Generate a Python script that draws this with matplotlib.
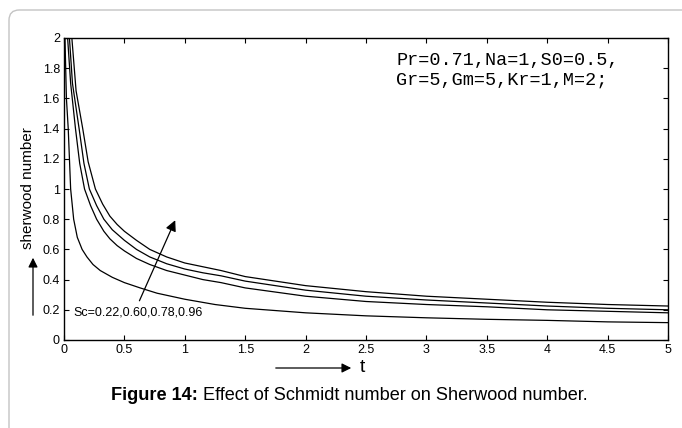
import matplotlib
matplotlib.use('Agg')
import matplotlib.pyplot as plt
from matplotlib.patches import FancyBboxPatch

# curves, one (t, Sh) pair per Schmidt number
t_022 = [0.008, 0.02, 0.035, 0.055, 0.08, 0.11, 0.15, 0.19, 0.24, 0.3, 0.4, 0.5, 0.63, 0.77, 1.0, 1.25, 1.5, 2.0, 2.5, 3.0, 3.5, 4.0, 4.5, 5.0]
sh_022 = [2.0, 1.6, 1.4, 1.0, 0.8, 0.68, 0.6, 0.55, 0.5, 0.46, 0.415, 0.38, 0.345, 0.31, 0.27, 0.235, 0.21, 0.18, 0.16, 0.147, 0.137, 0.13, 0.12, 0.115]

t_060 = [0.03, 0.055, 0.095, 0.13, 0.17, 0.22, 0.27, 0.33, 0.38, 0.44, 0.5, 0.6, 0.71, 0.85, 1.0, 1.15, 1.3, 1.5, 2.0, 2.5, 3.0, 3.5, 4.0, 4.5, 5.0]
sh_060 = [2.0, 1.7, 1.4, 1.17, 1.0, 0.89, 0.8, 0.72, 0.67, 0.625, 0.59, 0.54, 0.50, 0.46, 0.43, 0.40, 0.38, 0.345, 0.29, 0.255, 0.235, 0.22, 0.20, 0.19, 0.18]

t_078 = [0.045, 0.07, 0.125, 0.165, 0.21, 0.27, 0.33, 0.4, 0.5, 0.6, 0.71, 0.85, 1.0, 1.15, 1.3, 1.5, 2.0, 2.5, 3.0, 3.5, 4.0, 4.5, 5.0]
sh_078 = [2.0, 1.7, 1.4, 1.17, 1.0, 0.89, 0.8, 0.73, 0.66, 0.6, 0.55, 0.505, 0.47, 0.445, 0.425, 0.39, 0.33, 0.29, 0.265, 0.245, 0.225, 0.21, 0.20]

t_096 = [0.065, 0.1, 0.155, 0.2, 0.26, 0.32, 0.38, 0.44, 0.5, 0.6, 0.71, 0.85, 1.0, 1.15, 1.3, 1.5, 2.0, 2.5, 3.0, 3.5, 4.0, 4.5, 5.0]
sh_096 = [2.0, 1.65, 1.4, 1.18, 1.0, 0.9, 0.82, 0.765, 0.72, 0.66, 0.60, 0.55, 0.51, 0.485, 0.46, 0.42, 0.36, 0.32, 0.29, 0.27, 0.25, 0.235, 0.225]

x_ticks = [0, 0.5, 1, 1.5, 2, 2.5, 3, 3.5, 4, 4.5, 5]
x_tick_labels = ['0', '0.5', '1', '1.5', '2', '2.5', '3', '3.5', '4', '4.5', '5']
y_ticks = [0, 0.2, 0.4, 0.6, 0.8, 1, 1.2, 1.4, 1.6, 1.8, 2]
y_tick_labels = ['0', '0.2', '0.4', '0.6', '0.8', '1', '1.2', '1.4', '1.6', '1.8', '2']

sc_label = 'Sc=0.22,0.60,0.78,0.96'
param_text = 'Pr=0.71,Na=1,S0=0.5,\nGr=5,Gm=5,Kr=1,M=2;'

plt.rcParams['font.family'] = ['Liberation Sans', 'DejaVu Sans']

W, H = 682, 428
fig = plt.figure(figsize=(W / 100, H / 100), dpi=100)

# card outline behind everything (left and top edges visible)
card_top = 1 - 10 / H
card = FancyBboxPatch((9 / W, -0.2), 1.2, card_top + 0.2,
                      boxstyle='round,pad=0,rounding_size=0.015',
                      mutation_aspect=W / H, transform=fig.transFigure,
                      facecolor='none', edgecolor='#c4c4c4', lw=1.0, zorder=-1)
fig.patches.append(card)

ax = fig.add_axes([64 / W, 1 - 340 / H, (668 - 64) / W, (340 - 38) / H])
ax.set_facecolor('none')

for t, sh in [(t_022, sh_022), (t_060, sh_060), (t_078, sh_078), (t_096, sh_096)]:
    ax.plot(t, sh, color='black', lw=0.9)

ax.set_xlim(0, 5)
ax.set_ylim(0, 2)
ax.set_xticks(x_ticks)
ax.set_xticklabels(x_tick_labels)
ax.set_yticks(y_ticks)
ax.set_yticklabels(y_tick_labels)
ax.tick_params(direction='in', length=3.6, width=0.8, labelsize=9,
               top=True, right=True, pad=3)
for s in ax.spines.values():
    s.set_linewidth(1.0)

# arrow pointing in the direction of increasing Sc
ax.annotate('', xy=(0.93, 0.81), xytext=(0.615, 0.243),
            arrowprops=dict(arrowstyle='-|>', color='black', lw=0.9,
                            mutation_scale=16))
ax.text(0.075, 0.185, sc_label, fontsize=9, va='center', ha='left')

ax.text(2.75, 1.905, param_text, family='Liberation Mono', fontsize=13.3,
        va='top', ha='left', linespacing=1.2)

# axis labels with arrows, as in the original figure
fig.text(28 / W, 1 - 188 / H, 'sherwood number', rotation=90,
         fontsize=11, ha='center', va='center')
ax.annotate('', xy=(33 / W, 1 - 255 / H), xytext=(33 / W, 1 - 318 / H),
            xycoords='figure fraction', textcoords='figure fraction',
            arrowprops=dict(arrowstyle='-|>', color='black', lw=0.9,
                            mutation_scale=14), annotation_clip=False)
ax.annotate('', xy=(354 / W, 1 - 368 / H), xytext=(273 / W, 1 - 368 / H),
            xycoords='figure fraction', textcoords='figure fraction',
            arrowprops=dict(arrowstyle='-|>', color='black', lw=0.9,
                            mutation_scale=14), annotation_clip=False)
fig.text(360 / W, 1 - 368 / H, 't', fontsize=14, ha='left', va='center')

# caption
cap1 = fig.text(111 / W, 1 - 395 / H, 'Figure 14:', fontsize=13.1,
                fontweight='bold', ha='left', va='center')
ax.annotate(' Effect of Schmidt number on Sherwood number.', xy=(1, 0.5),
            xycoords=cap1, fontsize=13.1, ha='left', va='center',
            annotation_clip=False)

fig.savefig('out.png', dpi=100)
